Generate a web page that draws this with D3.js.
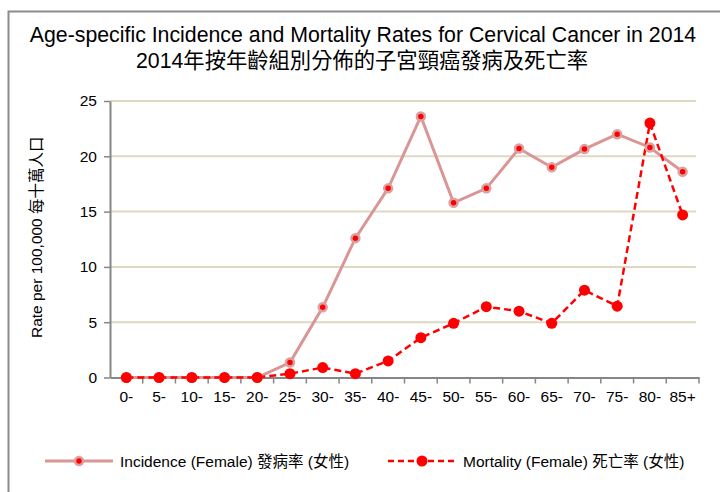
<!DOCTYPE html>
<html>
<head>
<meta charset="utf-8">
<script src="https://cdn.jsdelivr.net/npm/d3@7"></script>
<style>
body { margin: 0; background: #fff; }
svg text { font-family: "Liberation Sans", Arial, "Noto Sans CJK TC", sans-serif; }
</style>
</head>
<body>
<div id="chart"></div>
<script>
const width = 720
const height = 492
const margin = { top: 101, bottom: 114, left: 110, right: 21 }

const ageGroups = ["0-", "5-", "10-", "15-", "20-", "25-", "30-", "35-", "40-", "45-", "50-", "55-", "60-", "65-", "70-", "75-", "80-", "85+"]
const incidence = [0, 0, 0, 0, 0, 1.35, 6.35, 12.6, 17.1, 23.6, 15.8, 17.1, 20.7, 19.0, 20.65, 22.0, 20.8, 18.6]
const mortality = [0, 0, 0, 0, 0, 0.35, 0.9, 0.35, 1.5, 3.6, 4.9, 6.4, 6.0, 4.9, 7.9, 6.45, 23.0, 14.7]
const yTicks = [0, 5, 10, 15, 20, 25]

const titleEn = "Age-specific Incidence and Mortality Rates for Cervical Cancer in 2014"
const titleZh = "2014年按年齡組別分佈的子宮頸癌發病及死亡率"
const yLabel = "Rate per 100,000 每十萬人口"
const legendInc = "Incidence (Female) 發病率 (女性)"
const legendMort = "Mortality (Female) 死亡率 (女性)"

const fs = 15.5

const svg = d3.select("div#chart").append("svg").attr("width", width).attr("height", height)

// outer frame
svg.append("rect")
    .attr("x", 8.5).attr("y", 11.5)
    .attr("width", 740).attr("height", 500)
    .attr("fill", "none").attr("stroke", "#8c8c8c").attr("stroke-width", 2)

svg.append("text").attr("x", 363).attr("y", 42).attr("text-anchor", "middle")
    .attr("font-size", 21.3).attr("fill", "#000").text(titleEn)
svg.append("text").attr("x", 362).attr("y", 68).attr("text-anchor", "middle")
    .attr("font-size", 21.3).attr("fill", "#000").text(titleZh)

const x = d3.scaleBand().domain(ageGroups).range([margin.left, width - margin.right])
const y = d3.scaleLinear().domain([0, 25]).range([height - margin.bottom - 0.5, margin.top])
const cx = d => x(d) + x.bandwidth() / 2

// gridlines
svg.append("g").selectAll("line").data(yTicks.filter(t => t > 0)).join("line")
    .attr("x1", margin.left).attr("x2", width - margin.right - 3)
    .attr("y1", d => y(d)).attr("y2", d => y(d))
    .attr("stroke", "#ddd9c3").attr("stroke-width", 2)

const yAxis = svg.append("g").attr("transform", `translate(${margin.left},0)`)
    .call(d3.axisLeft(y).tickValues(yTicks).tickSize(6).tickSizeOuter(0).tickPadding(7))
yAxis.select(".domain").attr("stroke", "#868686").attr("stroke-width", 2)
yAxis.selectAll(".tick line").attr("stroke", "#868686").attr("stroke-width", 1.5)
yAxis.selectAll(".tick text").attr("font-size", fs).attr("fill", "#000")
    .attr("font-family", "Liberation Sans, Arial, sans-serif")

const xAxis = svg.append("g").attr("transform", `translate(0,${y(0)})`)
    .call(d3.axisBottom(x).tickSize(0).tickPadding(13))
xAxis.select(".domain").attr("stroke", "#868686").attr("stroke-width", 2)
xAxis.selectAll(".tick text").attr("font-size", fs).attr("fill", "#000")
    .attr("font-family", "Liberation Sans, Arial, sans-serif")

// x ticks between categories
svg.append("g").selectAll("line").data(ageGroups.slice(1).concat(["end"])).join("line")
    .attr("x1", (d, i) => i < ageGroups.length - 1 ? x(d) : width - margin.right)
    .attr("x2", (d, i) => i < ageGroups.length - 1 ? x(d) : width - margin.right)
    .attr("y1", y(0)).attr("y2", y(0) + 6)
    .attr("stroke", "#868686").attr("stroke-width", 1.5)

svg.append("text")
    .attr("transform", `translate(42,${(y(0) + y(25)) / 2 - 2}) rotate(-90)`)
    .attr("text-anchor", "middle").attr("font-size", fs).attr("fill", "#000").text(yLabel)

const incData = ageGroups.map((a, i) => ({ a, v: incidence[i] }))
const mortData = ageGroups.map((a, i) => ({ a, v: mortality[i] }))
const line = d3.line().x(d => cx(d.a)).y(d => y(d.v))

svg.append("path").datum(incData).attr("d", line)
    .attr("fill", "none").attr("stroke", "#d99694").attr("stroke-width", 3)

svg.append("path").datum(mortData).attr("d", line)
    .attr("fill", "none").attr("stroke", "#ff0000").attr("stroke-width", 2.5)
    .attr("stroke-dasharray", "7,4")

svg.append("g").selectAll("circle").data(incData).join("circle")
    .attr("cx", d => cx(d.a)).attr("cy", d => y(d.v)).attr("r", 4)
    .attr("fill", "#ff0000").attr("stroke", "#dba0a0").attr("stroke-width", 2.5)

svg.append("g").selectAll("circle").data(mortData).join("circle")
    .attr("cx", d => cx(d.a)).attr("cy", d => y(d.v)).attr("r", 5.5)
    .attr("fill", "#ff0000")

// legend
const legY = 461
const leg = svg.append("g")
leg.append("line").attr("x1", 45).attr("x2", 113).attr("y1", legY).attr("y2", legY)
    .attr("stroke", "#d99694").attr("stroke-width", 3)
leg.append("circle").attr("cx", 79).attr("cy", legY).attr("r", 4)
    .attr("fill", "#ff0000").attr("stroke", "#dba0a0").attr("stroke-width", 2.5)
leg.append("text").attr("x", 120).attr("y", legY + 5.5).attr("font-size", fs).attr("fill", "#000").text(legendInc)

leg.append("line").attr("x1", 388).attr("x2", 456).attr("y1", legY).attr("y2", legY)
    .attr("stroke", "#ff0000").attr("stroke-width", 2.5).attr("stroke-dasharray", "6,4")
leg.append("circle").attr("cx", 422).attr("cy", legY).attr("r", 5.5).attr("fill", "#ff0000")
leg.append("text").attr("x", 463).attr("y", legY + 5.5).attr("font-size", fs).attr("fill", "#000").text(legendMort)
</script>
</body>
</html>
